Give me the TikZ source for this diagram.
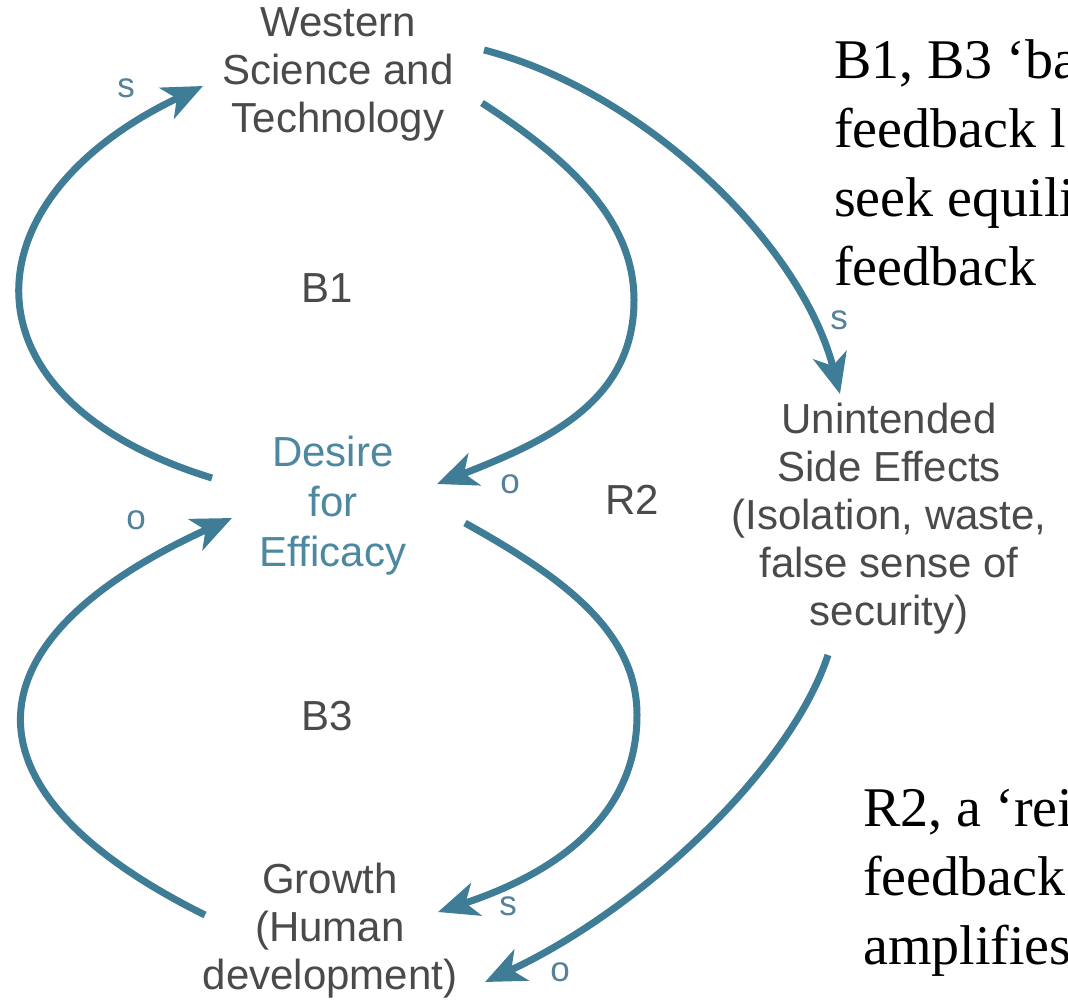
\documentclass[tikz,border=0pt]{standalone}
\usepackage{fontspec}
\setmainfont{Liberation Serif}
\newfontfamily\handfont{Liberation Sans}
\usetikzlibrary{arrows.meta}

\definecolor{flow}{HTML}{3F7C95}
\definecolor{ink}{HTML}{4A4A4A}
\definecolor{aim}{HTML}{4C88A0}
\definecolor{polc}{HTML}{55819A}

\begin{document}
\begin{tikzpicture}[x=1pt,y=-1pt,
  hand/.style={font=\handfont\fontsize{42}{48}\selectfont, text=ink, inner sep=0pt, align=center, anchor=north},
  loopname/.style={font=\handfont\fontsize{42}{48}\selectfont, text=ink, inner sep=0pt},
  pol/.style={font=\handfont\fontsize{35}{35}\selectfont, text=polc, inner sep=0pt},
  link/.style={draw=flow, line width=7pt, -{Stealth[length=40pt,width=34pt,inset=11pt]}},
  note/.style={font=\fontsize{56}{69}\selectfont, text=black, inner sep=0pt, align=left, anchor=north west}]

\useasboundingbox (0,0) rectangle (1068,999);
\clip (0,0) rectangle (1068,999);
\fill[white] (0,0) rectangle (1068,999);

% variables of the causal loop diagram
\node[hand] (wst) at (338,7) {Western\\Science and\\Technology};
\node[hand, text=aim, font=\handfont\fontsize{42}{50}\selectfont] (des) at (333,436) {Desire\\for\\Efficacy};
\node[hand] (side) at (889,403) {Unintended\\Side Effects\\(Isolation, waste,\\false sense of\\security)};
\node[hand] (grw) at (330,863) {Growth\\(Human\\development)};

% loop identifiers
\node[loopname] (b1) at (327,288) {B1};
\node[loopname] (b3) at (327,716) {B3};
\node[loopname] (r2) at (632,500) {R2};

% causal links
% B1: desire -> science (s), science -> desire (o)
\draw[link] ([shift={(-121,42)}]des.north) .. controls +(-255,-78) and +(-240,114) .. ([shift={(-135,79)}]wst.north);
\draw[link] ([shift={(144,96)}]wst.north) .. controls +(88,57) and +(0,-80) .. (634,300)
            .. controls +(0,100) and +(113,-44) .. ([shift={(104,48)}]des.north);
% R2: science -> side effects (s), side effects -> growth (o)
\draw[link] ([shift={(146,43)}]wst.north) .. controls +(156,40) and +(-40,-154) .. ([shift={(-49,-9)}]side.north);
\draw[link] ([shift={(-61,252)}]side.north) .. controls +(-38,115) and +(155,-72) .. ([shift={(155,119)}]grw.north);
% B3: desire -> growth (s), growth -> desire (o)
\draw[link] ([shift={(132,87)}]des.north) .. controls +(95,53) and +(0,-85) .. (637,715)
            .. controls +(0,105) and +(112,-37) .. ([shift={(108,49)}]grw.north);
\draw[link] ([shift={(-125,52)}]grw.north) .. controls +(-252,-125) and +(-268,122) .. ([shift={(-101,82)}]des.north);

% link polarities
\node[pol] (p1) at (126,88) {s};
\node[pol] (p2) at (510,484) {o};
\node[pol] (p3) at (839,320) {s};
\node[pol] (p4) at (560,972) {o};
\node[pol] (p5) at (508,906) {s};
\node[pol] (p6) at (136,520) {o};

% explanatory notes
\node[note] (n1) at (834,39) {B1, B3 ‘ba\\feedback l\\seek equili\\feedback};
\node[note] (n2) at (863,789) {R2, a ‘rei\\feedback\\amplifies};
\end{tikzpicture}
\end{document}
